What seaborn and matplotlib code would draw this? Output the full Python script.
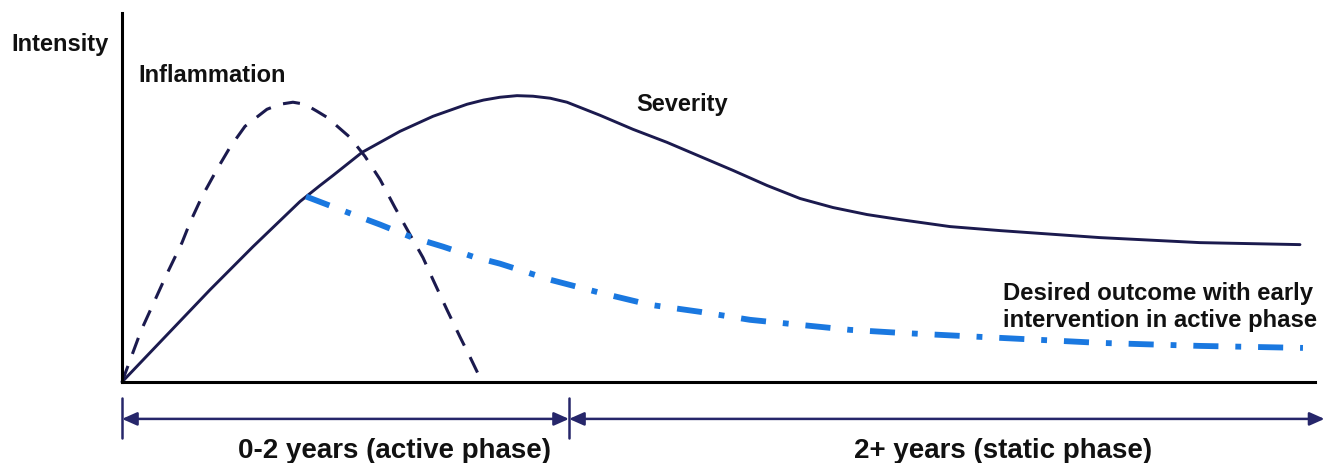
import matplotlib
matplotlib.use("Agg")
import matplotlib.pyplot as plt
import seaborn as sns

# values (x: time, y: intensity, arbitrary units 0-10)
inflam_x = [0, 0.159, 0.369, 0.503, 0.570, 0.671, 0.796, 0.905, 1.031, 1.215, 1.324, 1.433,
            1.534, 1.635, 1.718, 1.911, 2.037, 2.163, 2.288, 2.414, 2.523, 2.607, 2.724,
            2.833, 2.917, 3.018]
inflam_y = [0, 1.386, 2.880, 3.777, 4.321, 5.027, 5.761, 6.359, 6.929, 7.391, 7.527, 7.582,
            7.527, 7.337, 7.174, 6.630, 6.114, 5.489, 4.728, 3.995, 3.370, 2.772, 1.957,
            1.223, 0.679, 0]

sev_x = [0, 0.738, 1.098, 1.492, 1.660, 1.769, 2.012, 2.330, 2.607, 2.892, 3.030, 3.168,
         3.311, 3.445, 3.590, 3.730, 4.007, 4.283, 4.568, 4.845, 5.122, 5.407, 5.683,
         5.960, 6.245, 6.521, 6.940, 7.360, 8.198, 9.036, 9.874]
sev_y = [0, 2.500, 3.668, 4.891, 5.326, 5.598, 6.223, 6.793, 7.201, 7.527, 7.640, 7.717,
         7.760, 7.745, 7.690, 7.582, 7.228, 6.848, 6.495, 6.114, 5.734, 5.326, 4.973,
         4.728, 4.538, 4.402, 4.212, 4.103, 3.913, 3.777, 3.723]

desired_x = [1.542, 1.718, 1.894, 2.163, 2.414, 2.691, 2.942, 3.168, 3.588, 4.007, 4.426,
             4.845, 5.264, 5.683, 6.102, 6.521, 7.360, 8.198, 9.036, 9.899]
desired_y = [5.027, 4.810, 4.592, 4.266, 3.940, 3.668, 3.397, 3.207, 2.772, 2.418, 2.092,
             1.902, 1.685, 1.549, 1.413, 1.332, 1.196, 1.060, 0.978, 0.924]

phase_bounds = [0, 3.747, 10.08]
phase_labels = ["0-2 years (active phase)", "2+ years (static phase)"]

navy = "#1b1a4e"
blue = "#1a78e0"
bar_col = "#26266a"

sns.set_style("white")
plt.rcParams["font.family"] = ["Liberation Sans", "DejaVu Sans"]
plt.rcParams["font.weight"] = "bold"
plt.rcParams["text.color"] = "#111111"

fig = plt.figure(figsize=(13.27, 4.63), dpi=100)
ax = fig.add_axes([122 / 1327, 81 / 463, 1193 / 1327, 369 / 463])

sns.lineplot(x=inflam_x, y=inflam_y, sort=False, estimator=None, ax=ax, color=navy,
             linewidth=2.2, linestyle=(0, (5.6, 4.2)), clip_on=False)
sns.lineplot(x=sev_x, y=sev_y, sort=False, estimator=None, ax=ax, color=navy,
             linewidth=2.1, clip_on=False)
sns.lineplot(x=desired_x, y=desired_y, sort=False, estimator=None, ax=ax, color=blue,
             linewidth=4.2, linestyle=(0, (4.3, 2.9, 1, 2.9)), clip_on=False)

ax.set_xlim(0, 10)
ax.set_ylim(0, 10)
ax.set_xticks([])
ax.set_yticks([])
for s in ["top", "right"]:
    ax.spines[s].set_visible(False)
for s in ["left", "bottom"]:
    ax.spines[s].set_linewidth(2.2)
    ax.spines[s].set_color("black")

# labels
ax.text(-0.93, 8.97, "Intensity", fontsize=17, ha="left", va="baseline", clip_on=False)
ax.text(0.134, 8.125, "Inflammation", fontsize=17, ha="left", va="baseline")
ax.text(4.308, 7.337, "Severity", fontsize=17, ha="left", va="baseline")
ax.text(7.385, 2.228, "Desired outcome with early", fontsize=17.2, ha="left", va="baseline", clip_on=False)
ax.text(7.385, 1.495, "intervention in active phase", fontsize=17.2, ha="left", va="baseline", clip_on=False)

# phase arrows below the axis
for xb in phase_bounds[:2]:
    ax.plot([xb, xb], [-0.43, -1.52], color=bar_col, linewidth=1.8, clip_on=False)
for i in range(2):
    ax.annotate("", xy=(phase_bounds[i + 1], -1.0), xytext=(phase_bounds[i], -1.0),
                xycoords="data", annotation_clip=False,
                arrowprops=dict(arrowstyle="<|-|>,head_length=0.45,head_width=0.2",
                                mutation_scale=20, color=bar_col, linewidth=1.8,
                                shrinkA=0, shrinkB=0))
ax.text(2.284, -2.065, phase_labels[0], fontsize=20, ha="center", va="baseline", clip_on=False)
ax.text(7.385, -2.065, phase_labels[1], fontsize=20, ha="center", va="baseline", clip_on=False)

fig.savefig("out.png", dpi=100)
